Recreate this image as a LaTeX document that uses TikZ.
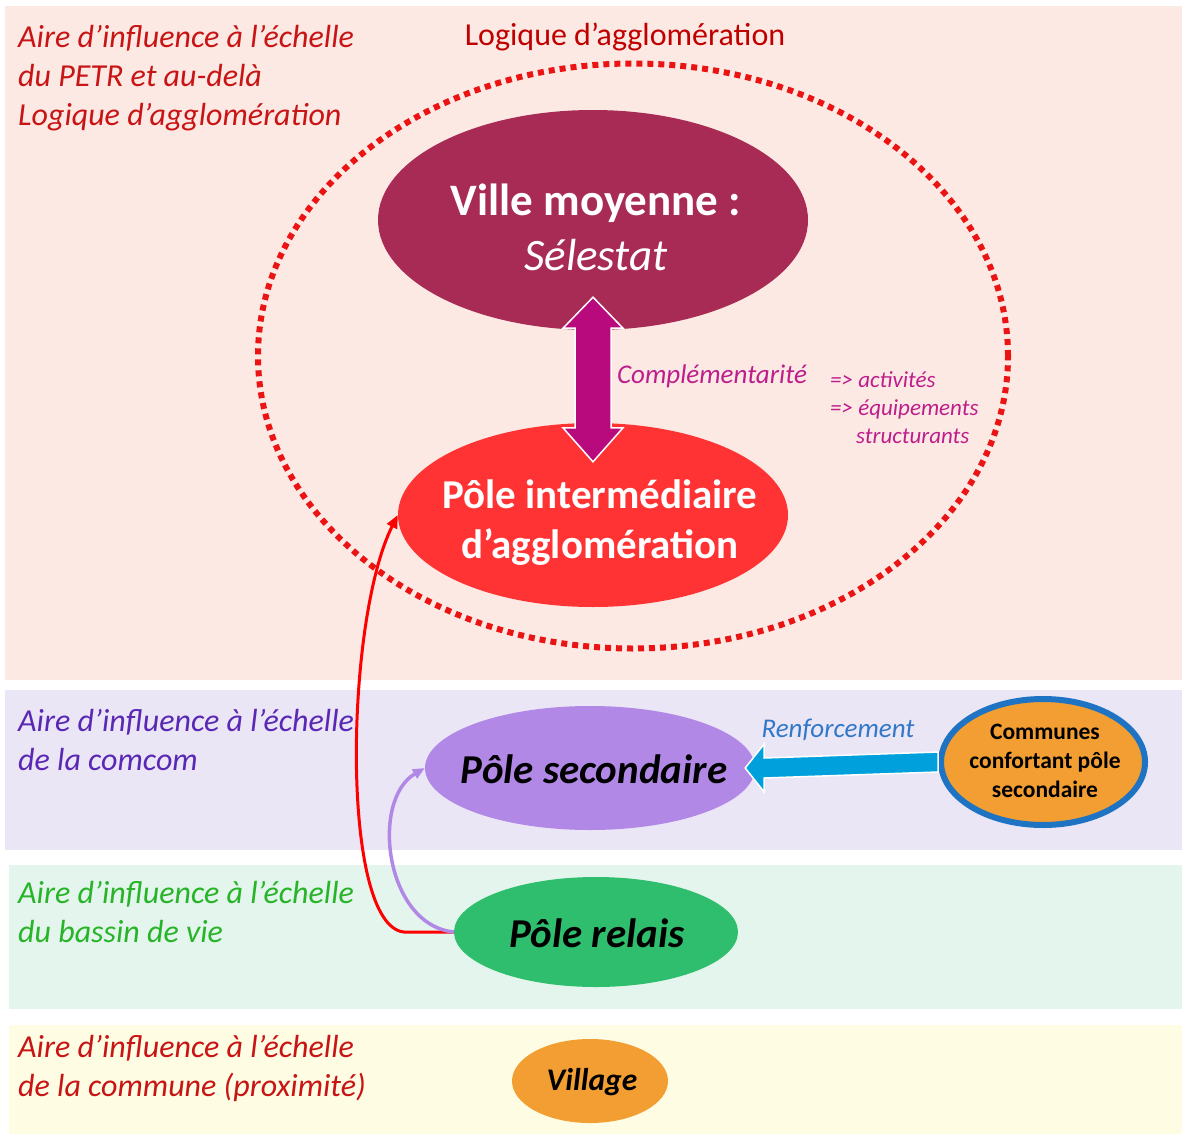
\documentclass[tikz,border=0pt]{standalone}
\usepackage{fontspec}
\setmainfont{Carlito}
\usetikzlibrary{shapes.geometric,arrows.meta,calc}
\definecolor{bandpink}{RGB}{253,233,228}
\definecolor{bandlav}{RGB}{234,230,246}
\definecolor{bandgreen}{RGB}{227,245,236}
\definecolor{bandyellow}{RGB}{254,253,228}
\definecolor{villec}{RGB}{168,43,85}
\definecolor{polec}{RGB}{255,51,51}
\definecolor{secc}{RGB}{178,136,230}
\definecolor{relaisc}{RGB}{46,190,110}
\definecolor{orangec}{RGB}{242,158,50}
\definecolor{bluebord}{RGB}{30,115,195}
\definecolor{arrowblue}{RGB}{0,160,220}
\definecolor{magarrow}{RGB}{185,10,125}
\definecolor{magtext}{RGB}{190,30,140}
\definecolor{darkred}{RGB}{192,0,0}
\definecolor{labred}{RGB}{200,20,20}
\definecolor{labpurple}{RGB}{90,40,180}
\definecolor{labgreen}{RGB}{40,180,40}
\definecolor{renfblue}{RGB}{50,120,200}
\definecolor{dotred}{RGB}{235,20,20}
\begin{document}
\begin{tikzpicture}[x=1pt,y=-1pt,
  zonelabel/.style={anchor=north west,align=left,inner sep=0pt,font=\itshape\fontsize{32}{39}\selectfont},
  blob/.style={ellipse,draw=none,inner sep=0pt},
  blobtext/.style={align=center,inner sep=0pt}]
\useasboundingbox (0,0) rectangle (1182,1134);
% bands
\fill[bandpink] (5,6) rectangle (1182,680);
\fill[bandlav] (5,690) rectangle (1182,850);
\fill[bandgreen] (9,865) rectangle (1182,1009);
\fill[bandyellow] (9,1025) rectangle (1182,1134);
% zone labels
\node[zonelabel,text=labred] (lab1) at (18,25) {Aire d’influence à l’échelle\\du PETR et au-delà\\Logique d’agglomération};
\node[zonelabel,text=labpurple] (lab2) at (18,709) {Aire d’influence à l’échelle\\de la comcom};
\node[zonelabel,text=labgreen] (lab3) at (18,881) {Aire d’influence à l’échelle\\du bassin de vie};
\node[zonelabel,text=labred] (lab4) at (18,1035) {Aire d’influence à l’échelle\\de la commune (proximité)};
\node[inner sep=0pt,text=darkred,font=\fontsize{32}{38}\selectfont] (logique) at (625,37) {Logique d’agglomération};
% dotted zone
\node[ellipse,draw=dotred,line width=6pt,dash pattern=on 6pt off 5pt,minimum width=750,minimum height=585,inner sep=0pt] (zone) at (633,356) {};
% ellipses
\node[blob,fill=villec,minimum width=430,minimum height=220] (ville) at (593,220) {};
\node[blobtext,text=white,font=\fontsize{45}{55}\selectfont] (villet) at (596,227) {\textbf{Ville moyenne :}\\\textit{Sélestat}};
\node[blob,fill=polec,minimum width=390,minimum height=184] (pole) at (593,515) {};
\node[blobtext,text=white,font=\bfseries\fontsize{41}{50}\selectfont] (polet) at (600,523) {Pôle intermédiaire\\d’agglomération};
\node[blob,fill=secc,minimum width=330,minimum height=124] (sec) at (590,768) {};
\node[blobtext,font=\bfseries\itshape\fontsize{41}{44}\selectfont] (sect) at (594,769) {Pôle secondaire};
\node[ellipse,draw=bluebord,line width=6pt,fill=orangec,minimum width=204,minimum height=126,inner sep=0pt] (comm) at (1043,762) {};
\node[blobtext,font=\bfseries\fontsize{23.5}{29}\selectfont] (commt) at (1045,761) {Communes\\confortant pôle\\secondaire};
\node[blob,fill=relaisc,minimum width=284,minimum height=110] (relais) at (596,932) {};
\node[blobtext,font=\bfseries\itshape\fontsize{41}{44}\selectfont] (relaist) at (597,933) {Pôle relais};
\node[blob,fill=orangec,minimum width=156,minimum height=84] (village) at (590,1081) {};
\node[blobtext,font=\bfseries\itshape\fontsize{31.5}{34}\selectfont] (villaget) at (592,1082) {Village};
% double arrow
\coordinate (dt) at ($(ville.south)+(0,-33)$);
\coordinate (db) at ($(pole.north)+(0,39)$);
\fill[magarrow,draw=white,line width=1.5pt]
  (dt) -- ++(30,31) -- ++(-12,0) -- ($(db)+(18,-34)$) -- ++(12,0) -- (db) -- ++(-30,-34) -- ++(12,0) -- ($(dt)+(-18,31)$) -- ++(-12,0) -- cycle;
\node[inner sep=0pt,text=magtext,font=\itshape\fontsize{27}{30}\selectfont] (compl) at (712,376) {Complémentarité};
\node[anchor=north west,align=left,inner sep=0pt,text=magtext,font=\itshape\fontsize{23}{28}\selectfont] (act) at (830,371) {=> activités\\=> équipements\\\hspace*{26pt}structurants};
% blue arrow
\coordinate (bt) at ($(sec.east)+(-10,0)$);
\fill[arrowblue,draw=white,line width=1.5pt]
  (bt) -- ++(19,-24) -- ++(0,14) -- ($(comm.west)+(0,-10)$) -- ($(comm.west)+(0,10)$) -- ($(bt)+(19,10)$) -- ++(0,14) -- cycle;
\node[inner sep=0pt,text=renfblue,font=\itshape\fontsize{27}{30}\selectfont] (renf) at (838,730) {Renforcement};
% curved connectors
\draw[red,line width=3pt,-{Triangle[length=13pt,width=11pt]}] (relais.west) -- ++(-50,0) .. controls (340,925) and (345,620) .. (pole.west);
\draw[secc,line width=3.5pt,-{Triangle[length=12pt,width=10pt]}] (relais.west) .. controls (385,925) and (370,800) .. (sec.west);
\end{tikzpicture}
\end{document}
